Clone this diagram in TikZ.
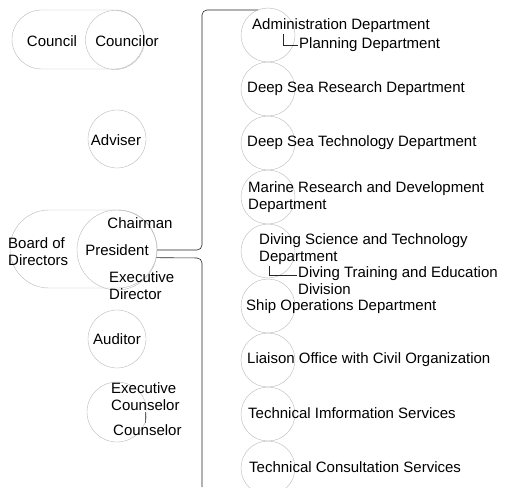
\documentclass[tikz,border=0pt]{standalone}
\usepackage{fontspec}
\setmainfont{Liberation Sans}
\usepackage{tikz}
\usetikzlibrary{positioning}
\usetikzlibrary{calc}
\tikzset{
  ring/.style={circle,draw=gray!55,line width=0.4pt,inner sep=0pt},
  shell/.style={draw=gray!55,line width=0.4pt},
  lbl/.style={inner sep=1pt,align=left,font=\fontsize{15}{17}\selectfont},
  bracket/.style={draw=black!85,line width=0.6pt,rounded corners=5pt},
  sub/.style={draw=black!85,line width=0.5pt}
}
\begin{document}
\begin{tikzpicture}[x=1pt,y=-1pt]
\useasboundingbox (0,0) rectangle (505,487);
% left column
\draw[shell,rounded corners=29.5pt] (12,10) rectangle (144,69);
\node[ring,minimum size=59pt] (cnclring) at (115,40) {};
\node[lbl] (council) at (52,41) {Council};
\node[lbl] (councilor) at (127,41) {Councilor};
\node[ring,minimum size=58pt] (advring) at (117,139) {};
\node[lbl] (adviser) at (116,140) {Adviser};
\draw[shell,rounded corners=39pt] (10,210) rectangle (157,288);
\node[ring,minimum size=80pt] (presring) at (117,250) {};
\node[lbl,anchor=west] (board) at (7,252) {Board of\\Directors};
\node[lbl] (chair) at (140,223) {Chairman};
\node[lbl] (pres) at (117,250) {President};
\node[lbl,anchor=west] (exdir) at (108,286) {Executive\\Director};
\node[ring,minimum size=58pt] (audring) at (117,339) {};
\node[lbl] (auditor) at (117,339) {Auditor};
\node[ring,minimum size=60pt] (counring) at (117,412) {};
\node[lbl,anchor=west] (excoun) at (110,397) {Executive\\Counselor};
\node[lbl,anchor=west] (coun) at (112,430) {Counselor};
\draw[sub,draw=black!60] (excoun.south) -- (excoun.south |- coun.north);
% bracket
\coordinate (topend) at (258,10);
\coordinate (botend) at (202,487);
\draw[bracket] (presring.east) -- (202,250) -- (202,10) -- (topend);
\draw[bracket] (presring.-11) -- (202,258) -- (botend);
% departments
\node[ring,minimum size=54pt] (r1) at (268,35) {};
\node[ring,minimum size=54pt] (r2) at (268,89) {};
\node[ring,minimum size=54pt] (r3) at (268,143) {};
\node[ring,minimum size=54pt] (r4) at (268,197) {};
\node[ring,minimum size=54pt] (r5) at (268,251) {};
\node[ring,minimum size=54pt] (r6) at (268,306) {};
\node[ring,minimum size=54pt] (r7) at (268,360) {};
\node[ring,minimum size=54pt] (r8) at (268,414) {};
\node[ring,minimum size=54pt] (r9) at (268,468) {};
\node[lbl,anchor=west] (admin) at (251,26) {Administration Department};
\node[lbl,anchor=west] (plan) at (298,45) {Planning Department};
\draw[sub] ($(admin.south west)+(32,0)$) |- (plan.west);
\node[lbl,anchor=west] (dsr) at (246,89) {Deep Sea Research Department};
\node[lbl,anchor=west] (dst) at (246,143) {Deep Sea Technology Department};
\node[lbl,anchor=west] (mrd) at (247,197) {Marine Research and Development\\Department};
\node[lbl,anchor=west] (dsci) at (258,249) {Diving Science and Technology\\Department};
\node[lbl,anchor=west] (dtrain) at (297,281) {Diving Training and Education\\Division};
\draw[sub] ($(dsci.south west)+(11,0)$) |- ($(dtrain.north west)+(0,9)$);
\node[lbl,anchor=west] (ship) at (245,307) {Ship Operations Department};
\node[lbl,anchor=west] (liaison) at (246,360) {Liaison Office with Civil Organization};
\node[lbl,anchor=west] (tinfo) at (247,413) {Technical Imformation Services};
\node[lbl,anchor=west] (tcons) at (248,467) {Technical Consultation Services};
\end{tikzpicture}
\end{document}
